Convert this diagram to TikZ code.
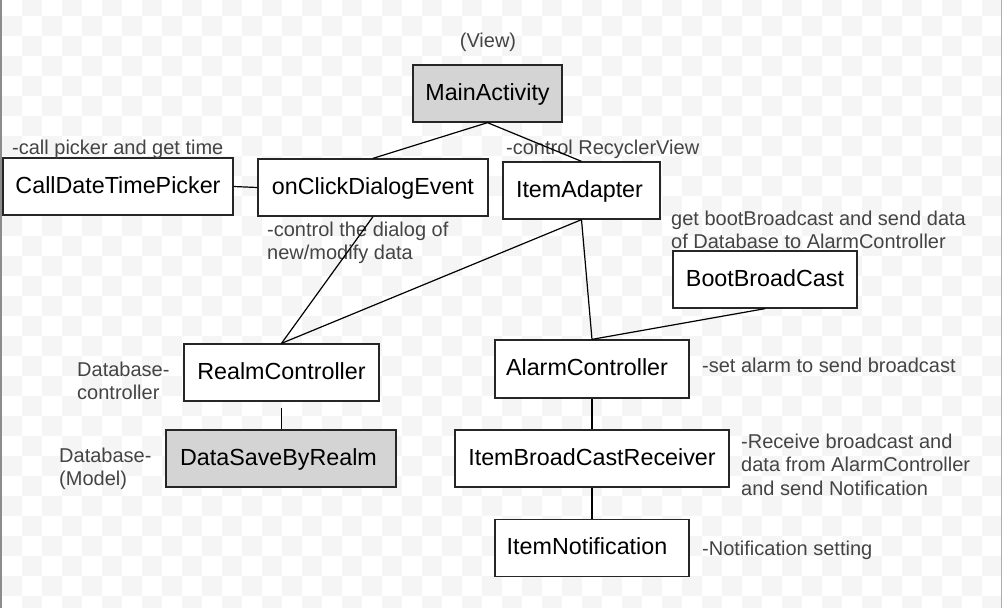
\documentclass[tikz,border=0pt]{standalone}
\usepackage{fontspec}
\setmainfont{Liberation Sans}
\definecolor{chk}{RGB}{245,245,245}
\definecolor{boxgray}{RGB}{212,212,212}
\definecolor{notegray}{RGB}{68,68,68}
\definecolor{edgegray}{RGB}{140,140,140}
\newcommand{\notelines}[1]{\begin{tabular}[t]{@{}l@{}}#1\end{tabular}}
\begin{document}
\begin{tikzpicture}[x=1pt,y=-1pt,
  box/.style={draw=black!85, line width=1.3pt, fill=white, rectangle, inner sep=0pt,
    text height=17pt, text depth=4pt, font=\fontsize{23.3}{27}\selectfont},
  graybox/.style={box, fill=boxgray},
  note/.style={inner sep=0pt, text=notegray, font=\fontsize{20}{23.5}\selectfont, anchor=base west},
  conn/.style={draw=black, line width=1.2pt}]
\useasboundingbox (0,0) rectangle (1002,608);
% transparency checkerboard background
\begin{scope}
\clip (0,0) rectangle (1002,608);
\foreach \i in {0,...,49}{\foreach \j in {0,...,30}{
  \pgfmathtruncatemacro\chkodd{mod(\i+\j,2)}
  \ifnum\chkodd=1 \fill[chk] (2+20*\i,-4+20*\j) rectangle ++(20,20);\fi
}}
\end{scope}
\fill[edgegray] (0,0) rectangle (2,608);
\fill[edgegray!70] (1000.6,0) rectangle (1002,608);

% boxes
\node[graybox, minimum width=149pt, minimum height=57pt] (main) at (487.5,93.5) {MainActivity};
\node[box, minimum width=230pt, minimum height=57pt] (cdtp) at (118,186.5) {CallDateTimePicker};
\node[box, minimum width=230pt, minimum height=57pt] (ocde) at (373,187.5) {onClickDialogEvent};
\node[box, minimum width=157pt, minimum height=57pt] (ia) at (581.5,190.5) {ItemAdapter\hspace*{4pt}};
\node[box, minimum width=184pt, minimum height=57pt] (boot) at (765,279.5) {BootBroadCast};
\node[box, minimum width=195pt, minimum height=57pt] (realm) at (281.5,372.5) {RealmController};
\node[graybox, minimum width=230pt, minimum height=57pt] (dsbr) at (281,458.5) {DataSaveByRealm\hspace*{5pt}};
\node[box, minimum width=194pt, minimum height=58pt] (alarm) at (592,369) {AlarmController\hspace*{10pt}};
\node[box, minimum width=274pt, minimum height=57pt] (ibcr) at (592,458.5) {ItemBroadCastReceiver};
\node[box, minimum width=194pt, minimum height=57pt] (inot) at (592,548) {ItemNotification\hspace*{10pt}};

% notes
\node[note, anchor=base] (nview) at (488,47) {(View)};
\node[note] (ncdtp) at (12,154) {-call picker and get time};
\node[note] (nia) at (506,154) {-control RecyclerView};
\node[note] (nocde) at (267,236) {\notelines{-control the dialog of\\new/modify data}};
\node[note] (nboot) at (671,225) {\notelines{get bootBroadcast and send data\\of Database to AlarmController}};
\node[note] (nrealm) at (77,376) {\notelines{Database-\\controller}};
\node[note] (ndsbr) at (59,462) {\notelines{Database-\\(Model)}};
\node[note] (nalarm) at (702,372) {-set alarm to send broadcast};
\node[note] (nibcr) at (741,448) {\notelines{-Receive broadcast and\\data from AlarmController\\and send Notification}};
\node[note] (ninot) at (702,555) {-Notification setting};

% connectors
\draw[conn] (main.south) -- (ocde.north);
\draw[conn] (main.south) -- (ia.north);
\draw[conn] (cdtp.east) -- (ocde.west);
\draw[conn] (ocde.south) -- (realm.north);
\draw[conn] (ia.south) -- (realm.north);
\draw[conn] (ia.south) -- (alarm.north);
\draw[conn] (boot.south) -- (alarm.north);
\draw[conn] ([yshift=-6pt]realm.south) -- (realm.south |- dsbr.north);
\draw[conn] (alarm.south) -- (ibcr.north);
\draw[conn] (ibcr.south) -- (inot.north);
\end{tikzpicture}
\end{document}
